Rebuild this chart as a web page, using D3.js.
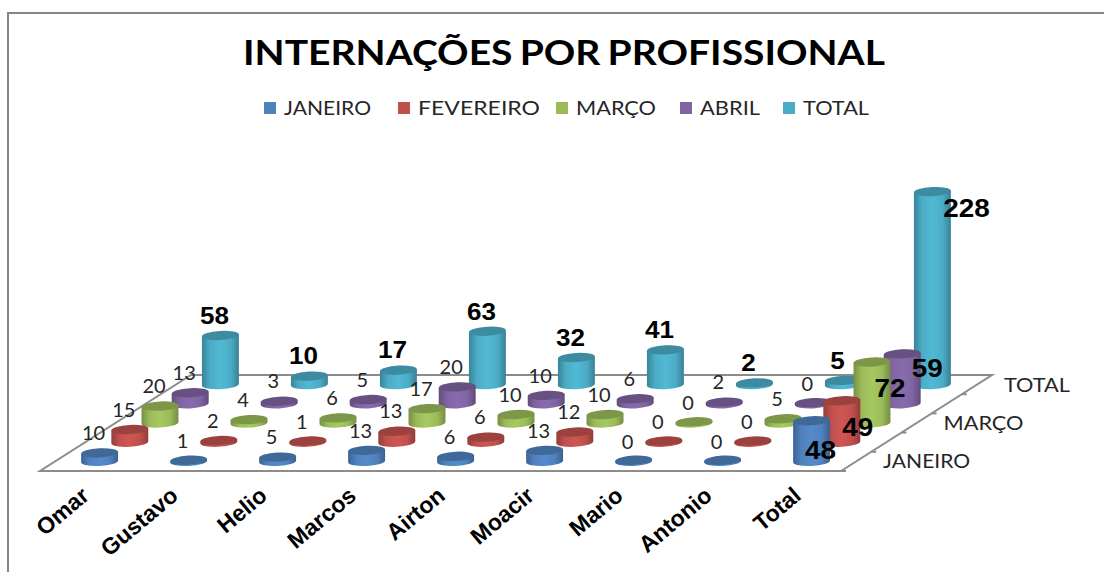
<!DOCTYPE html>
<html>
<head>
<meta charset="utf-8">
<script src="https://cdn.jsdelivr.net/npm/d3@7"></script>
<style>
  body { margin: 0; background: #fff; }
  svg { display: block; }
</style>
</head>
<body>
<svg width="1104" height="572"></svg>
<script>
// Data
var categories = ["Omar", "Gustavo", "Helio", "Marcos", "Airton", "Moacir", "Mario", "Antonio", "Total"];
var seriesNames = ["JANEIRO", "FEVEREIRO", "MARÇO", "ABRIL", "TOTAL"];
var janeiro = [10, 1, 5, 13, 6, 13, 0, 0, 48];
var fevereiro = [15, 2, 1, 13, 6, 12, 0, 0, 49];
var marco = [20, 4, 6, 17, 10, 10, 0, 5, 72];
var abril = [13, 3, 5, 20, 10, 6, 2, 0, 59];
var total = [58, 10, 17, 63, 32, 41, 2, 5, 228];
var seriesValues = [janeiro, fevereiro, marco, abril, total];
var depthLabels = ["JANEIRO", "MARÇO", "TOTAL"];
var colors = ["#4f81bd", "#c0504d", "#9bbb59", "#8064a2", "#4bacc6"];

var svg = d3.select("svg");

// Scales: the floor is a sheared plane
var x_scale = d3.scaleBand().domain(categories).range([40, 841]);
var depth_scale = d3.scaleBand().domain(seriesNames).range([0, 1]);
var y_scale = d3.scaleLinear().domain([0, 228]).range([0, 193]);
var shear_x = 151, shear_y = 96, floor_y = 471;

function ground(x, d) {
    return [x + d * shear_x, floor_y - d * shear_y];
}

// frame
svg.append("path")
    .attr("d", "M8,572V13H1104")
    .attr("fill", "none")
    .attr("stroke", "#868686")
    .attr("stroke-width", 2);

// title
svg.append("text")
    .attr("x", 564).attr("y", 65)
    .attr("text-anchor", "middle")
    .attr("textLength", 642)
    .attr("lengthAdjust", "spacingAndGlyphs")
    .style("font", "bold 34px Lato")
    .style("word-spacing", "-2px")
    .text("INTERNAÇÕES POR PROFISSIONAL");

// legend
var legend_x = [264, 398, 556, 680, 783];
var legend_w = [87, 122, 80, 60, 66];
var legend = svg.selectAll(".legend").data(seriesNames).enter().append("g").attr("class", "legend");
legend.append("rect")
    .attr("x", function (d, i) { return legend_x[i]; })
    .attr("y", 102).attr("width", 12).attr("height", 12)
    .attr("fill", function (d, i) { return colors[i]; });
legend.append("text")
    .attr("x", function (d, i) { return legend_x[i] + 20; })
    .attr("y", 115)
    .attr("textLength", function (d, i) { return legend_w[i]; })
    .attr("lengthAdjust", "spacingAndGlyphs")
    .attr("fill", "#262626")
    .style("font", "20px Lato")
    .text(function (d) { return d; });

// floor
var r = x_scale.range();
var corners = [ground(r[0], 0), ground(r[1], 0), ground(r[1], 1), ground(r[0], 1)];
svg.append("path")
    .attr("d", d3.line()(corners) + "Z")
    .attr("fill", "#fff")
    .attr("stroke", "#8c8c8c")
    .attr("stroke-width", 2);

// depth ticks on the right edge
seriesNames.forEach(function (s) {
    var p = ground(r[1], depth_scale(s));
    svg.append("line")
        .attr("x1", p[0]).attr("y1", p[1])
        .attr("x2", p[0] + 5).attr("y2", p[1])
        .attr("stroke", "#8c8c8c")
        .attr("stroke-width", 2);
});

// gradients for the cylinder sides
var defs = svg.append("defs");
colors.forEach(function (c, i) {
    var base = d3.color(c);
    var grad = defs.append("linearGradient").attr("id", "side" + i);
    [[0, base.darker(0.75)], [0.22, base], [0.5, base.brighter(0.2)], [0.78, base], [1, base.darker(0.8)]]
        .forEach(function (st) {
            grad.append("stop").attr("offset", st[0]).attr("stop-color", st[1]);
        });
});

var rx = 18.5, ry = 4.6, tilt = 3;
var tx = rx * Math.cos(tilt * Math.PI / 180), ty = rx * Math.sin(tilt * Math.PI / 180);

function arc_to(x, y, sweep) {
    return "A" + rx + "," + ry + ",-" + tilt + ",0," + sweep + "," + x + "," + y;
}

// cylinders: back row first, left to right inside a row
var marks = svg.append("g");
d3.range(seriesNames.length - 1, -1, -1).forEach(function (s) {
    var d = depth_scale(seriesNames[s]) + depth_scale.bandwidth() / 2;
    categories.forEach(function (cat, c) {
        var p = ground(x_scale(cat) + x_scale.bandwidth() / 2, d);
        var cx = p[0], by = p[1];
        var h = Math.max(y_scale(seriesValues[s][c]), 1.2);
        var ty_ = by - h;
        var g = marks.append("g");
        g.append("path")
            .attr("d", "M" + (cx - tx) + "," + (ty_ + ty) +
                "L" + (cx - tx) + "," + (by + ty) +
                arc_to(cx + tx, by - ty, 0) +
                "L" + (cx + tx) + "," + (ty_ - ty) + "Z")
            .attr("fill", "url(#side" + s + ")");
        g.append("ellipse")
            .attr("cx", cx).attr("cy", ty_)
            .attr("rx", rx).attr("ry", ry)
            .attr("transform", "rotate(-" + tilt + "," + cx + "," + ty_ + ")")
            .attr("fill", d3.color(colors[s]).darker(0.6));
    });
});

// data labels
var total_shift = [[9, 29], [16, 26], [18, 26], [25, 14], [34, 16]];
var labels = svg.append("g").attr("text-anchor", "middle");
seriesNames.forEach(function (name, s) {
    var d = depth_scale(name) + depth_scale.bandwidth() / 2;
    categories.forEach(function (cat, c) {
        var v = seriesValues[s][c];
        var p = ground(x_scale(cat) + x_scale.bandwidth() / 2, d);
        var top = p[1] - y_scale(v);
        var is_total_cat = c === categories.length - 1;
        var bold = is_total_cat || s === seriesNames.length - 1;
        var shift = is_total_cat ? total_shift[s] : [-6, -20];
        var t = labels.append("text")
            .attr("x", p[0] + shift[0])
            .attr("y", top + shift[1])
            .attr("dy", "0.36em")
            .attr("fill", bold ? "#000" : "#262626")
            .style("font", bold ? "bold " + (is_total_cat ? 26 : 23) + "px 'Liberation Sans'" : "20px Lato")
            .text(v);
        if (bold) {
            t.attr("textLength", String(v).length * (is_total_cat ? 15.5 : 14.5))
                .attr("lengthAdjust", "spacingAndGlyphs");
        }
    });
});

// category labels
svg.append("g").selectAll("text").data(categories).enter().append("text")
    .attr("text-anchor", "end")
    .attr("transform", function (d) {
        return "translate(" + (x_scale(d) + x_scale.bandwidth() / 2 + 6) + ",498) rotate(-40)";
    })
    .style("font", "bold 23px 'Liberation Sans'")
    .text(function (d) { return d; });

// depth axis labels
svg.append("g").selectAll("text").data(depthLabels).enter().append("text")
    .attr("x", function (d) {
        return ground(r[1], depth_scale(d) + depth_scale.bandwidth() / 2)[0] + 27;
    })
    .attr("y", function (d) {
        return ground(r[1], depth_scale(d) + depth_scale.bandwidth() / 2)[1] + 7;
    })
    .attr("textLength", function (d) { return legend_w[seriesNames.indexOf(d)]; })
    .attr("lengthAdjust", "spacingAndGlyphs")
    .attr("fill", "#262626")
    .style("font", "20px Lato")
    .text(function (d) { return d; });
</script>
</body>
</html>
